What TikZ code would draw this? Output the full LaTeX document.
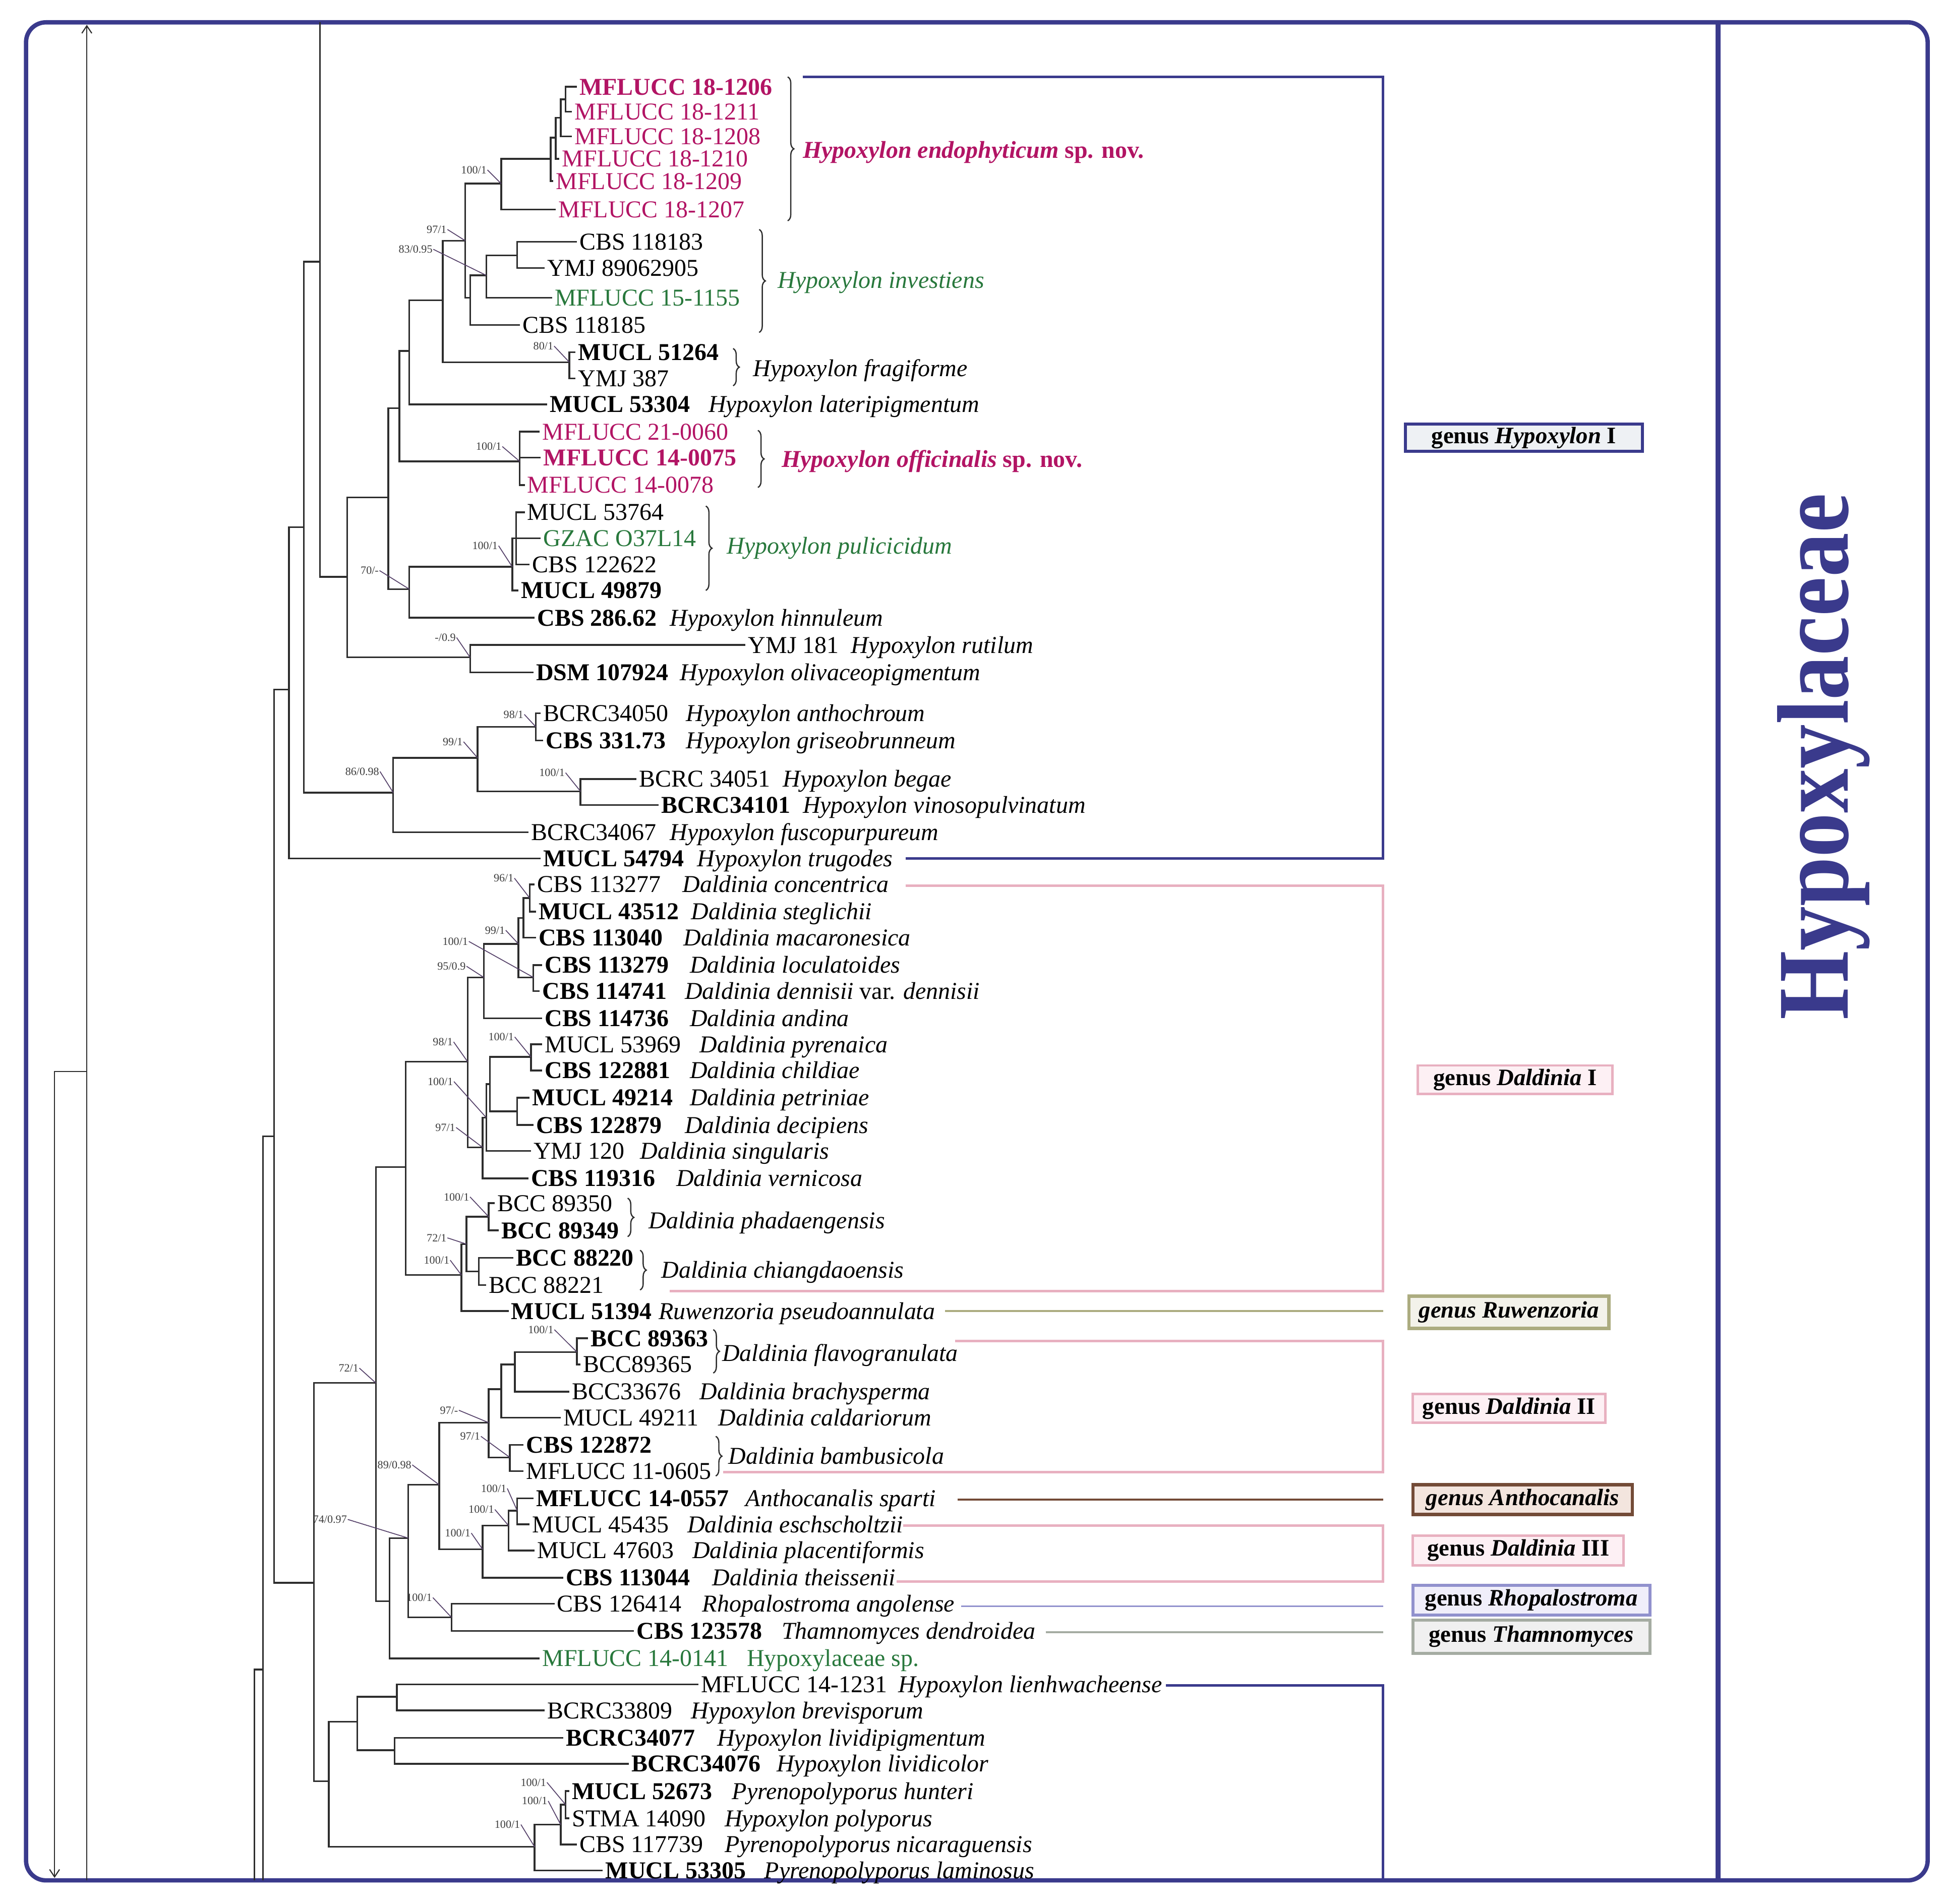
\documentclass[tikz,border=0pt]{standalone}
\usepackage{fontspec}
\setmainfont{Liberation Serif}
\usetikzlibrary{decorations.pathreplacing,arrows.meta}
\definecolor{navy}{RGB}{58,58,140}
\definecolor{magt}{RGB}{178,20,100}
\definecolor{grnt}{RGB}{40,120,60}
\definecolor{pinkl}{RGB}{232,176,192}
\definecolor{pinkf}{RGB}{253,240,244}
\definecolor{olivel}{RGB}{172,172,128}
\definecolor{olivef}{RGB}{243,242,234}
\definecolor{brownl}{RGB}{115,75,55}
\definecolor{brownf}{RGB}{243,229,222}
\definecolor{lavl}{RGB}{145,145,205}
\definecolor{lavf}{RGB}{240,238,250}
\definecolor{grayl}{RGB}{165,172,162}
\definecolor{grayf}{RGB}{240,240,240}
\definecolor{hyf}{RGB}{238,241,244}
\definecolor{brc}{RGB}{45,45,45}
\definecolor{ptrc}{RGB}{85,65,105}
\definecolor{supc}{RGB}{60,60,60}
\tikzset{
 br/.style={draw=brc, line width=1.4pt},
 tip/.style={anchor=west, inner xsep=2pt, inner ysep=0pt, text height=17pt, text depth=4pt, font=\fontsize{19.5}{22}\selectfont},
 sup/.style={font=\fontsize{9}{10}\selectfont, text=supc, inner sep=0.5pt},
 ptr/.style={draw=ptrc, line width=0.7pt},
 mag/.style={text=magt},
 grn/.style={text=grnt},
 gbox/.style={font=\fontsize{19}{22}\selectfont\bfseries, inner sep=0pt, line width=2.5pt},
 outerframe/.style={draw=navy, line width=3.5pt},
 bracenote/.style={draw=brc, line width=1pt, decorate, decoration={brace, amplitude=5pt}},
 navyline/.style={draw=navy, line width=2pt},
 pinkline/.style={draw=pinkl, line width=2pt},
}
\begin{document}
\begin{tikzpicture}[x=1pt,y=-1pt]
\useasboundingbox (0,0) rectangle (1568,1535);
% frame
\draw[outerframe, rounded corners=16pt] (21,18) rectangle (1554,1516);
\coordinate (dvt) at (1385,18);
\coordinate (dvb) at (1385,1516);
\draw[draw=navy, line width=4pt] (dvt) -- (dvb);
\node[rotate=90, text=navy, font=\fontsize{82}{82}\selectfont\bfseries, inner sep=0pt] (fam) at (1470,610) {\scalebox{0.87}[1]{Hypoxylaceae}};

% left arrows
\coordinate (R0) at (44,864);
\coordinate (R1) at (70,864);
\coordinate (Rtop) at (70,20);
\coordinate (Rbot) at (70,1516);
\coordinate (R0b) at (44,1514);
\draw[draw=brc, line width=0.9pt, -{Straight Barb[length=6pt,width=8pt]}] (Rbot) -- (Rtop);
\draw[draw=brc, line width=0.9pt, -{Straight Barb[length=6pt,width=8pt]}] (R1) -- (R0) -- (R0b);

% ---------- tips ----------
\node[tip,mag] (t1) at (465,70) {\textbf{MFLUCC 18-1206}};
\node[tip,mag] (t2) at (461,90) {MFLUCC 18-1211};
\node[tip,mag] (t3) at (461,110) {MFLUCC 18-1208};
\node[tip,mag] (t4) at (451,128) {MFLUCC 18-1210};
\node[tip,mag] (t5) at (446,146) {MFLUCC 18-1209};
\node[tip,mag] (t6) at (448,169) {MFLUCC 18-1207};
\node[tip] (t7) at (465,195) {CBS 118183};
\node[tip] (t8) at (439,216) {YMJ 89062905};
\node[tip,grn] (t9) at (445,240) {MFLUCC 15-1155};
\node[tip] (t10) at (419,262) {CBS 118185};
\node[tip] (t11) at (464,284) {\textbf{MUCL 51264}};
\node[tip] (t12) at (464,305) {YMJ 387};
\node[tip] (t13) at (441,326) {\textbf{MUCL 53304}};
\node[tip] (s13) at (569,326) {\textit{Hypoxylon lateripigmentum}};
\node[tip,mag] (t14) at (435,348) {MFLUCC 21-0060};
\node[tip,mag] (t15) at (436,369) {\textbf{MFLUCC 14-0075}};
\node[tip,mag] (t16) at (423,391) {MFLUCC 14-0078};
\node[tip] (t17) at (423,413) {MUCL 53764};
\node[tip,grn] (t18) at (436,434) {GZAC O37L14};
\node[tip] (t19) at (427,455) {CBS 122622};
\node[tip] (t20) at (418,476) {\textbf{MUCL 49879}};
\node[tip] (t21) at (431,498) {\textbf{CBS 286.62}};
\node[tip] (s21) at (538,498) {\textit{Hypoxylon hinnuleum}};
\node[tip] (t22) at (601,520) {YMJ 181};
\node[tip] (s22) at (684,520) {\textit{Hypoxylon rutilum}};
\node[tip] (t23) at (430,542) {\textbf{DSM 107924}};
\node[tip] (s23) at (546,542) {\textit{Hypoxylon olivaceopigmentum}};
\node[tip] (t24) at (436,575) {BCRC34050};
\node[tip] (s24) at (551,575) {\textit{Hypoxylon anthochroum}};
\node[tip] (t25) at (438,597) {\textbf{CBS 331.73}};
\node[tip] (s25) at (551,597) {\textit{Hypoxylon griseobrunneum}};
\node[tip] (t26) at (513,628) {BCRC 34051};
\node[tip] (s26) at (629,628) {\textit{Hypoxylon begae}};
\node[tip] (t27) at (531,649) {\textbf{BCRC34101}};
\node[tip] (s27) at (645,649) {\textit{Hypoxylon vinosopulvinatum}};
\node[tip] (t28) at (426,671) {BCRC34067};
\node[tip] (s28) at (538,671) {\textit{Hypoxylon fuscopurpureum}};
\node[tip] (t29) at (436,692) {\textbf{MUCL 54794}};
\node[tip] (s29) at (560,692) {\textit{Hypoxylon trugodes}};
\node[tip] (t30) at (431,713) {CBS 113277};
\node[tip] (s30) at (548,713) {\textit{Daldinia concentrica}};
\node[tip] (t31) at (432,735) {\textbf{MUCL 43512}};
\node[tip] (s31) at (555,735) {\textit{Daldinia steglichii}};
\node[tip] (t32) at (432,756) {\textbf{CBS 113040}};
\node[tip] (s32) at (549,756) {\textit{Daldinia macaronesica}};
\node[tip] (t33) at (437,778) {\textbf{CBS 113279}};
\node[tip] (s33) at (554,778) {\textit{Daldinia loculatoides}};
\node[tip] (t34) at (435,799) {\textbf{CBS 114741}};
\node[tip] (s34) at (550,799) {\textit{Daldinia dennisii} var. \textit{dennisii}};
\node[tip] (t35) at (437,821) {\textbf{CBS 114736}};
\node[tip] (s35) at (554,821) {\textit{Daldinia andina}};
\node[tip] (t36) at (437,842) {MUCL 53969};
\node[tip] (s36) at (562,842) {\textit{Daldinia pyrenaica}};
\node[tip] (t37) at (437,863) {\textbf{CBS 122881}};
\node[tip] (s37) at (554,863) {\textit{Daldinia childiae}};
\node[tip] (t38) at (427,885) {\textbf{MUCL 49214}};
\node[tip] (s38) at (554,885) {\textit{Daldinia petriniae}};
\node[tip] (t39) at (430,907) {\textbf{CBS 122879}};
\node[tip] (s39) at (550,907) {\textit{Daldinia decipiens}};
\node[tip] (t40) at (428,928) {YMJ 120};
\node[tip] (s40) at (514,928) {\textit{Daldinia singularis}};
\node[tip] (t41) at (426,950) {\textbf{CBS 119316}};
\node[tip] (s41) at (543,950) {\textit{Daldinia vernicosa}};
\node[tip] (t42) at (399,970) {BCC 89350};
\node[tip] (t43) at (402,992) {\textbf{BCC 89349}};
\node[tip] (t44) at (414,1014) {\textbf{BCC 88220}};
\node[tip] (t45) at (392,1036) {BCC 88221};
\node[tip] (t46) at (410,1057) {\textbf{MUCL 51394}};
\node[tip] (s46) at (529,1057) {\textit{Ruwenzoria pseudoannulata}};
\node[tip] (t47) at (474,1079) {\textbf{BCC 89363}};
\node[tip] (t48) at (468,1100) {BCC89365};
\node[tip] (t49) at (459,1122) {BCC33676};
\node[tip] (s49) at (562,1122) {\textit{Daldinia brachysperma}};
\node[tip] (t50) at (452,1143) {MUCL 49211};
\node[tip] (s50) at (577,1143) {\textit{Daldinia caldariorum}};
\node[tip] (t51) at (422,1165) {\textbf{CBS 122872}};
\node[tip] (t52) at (422,1186) {MFLUCC 11-0605};
\node[tip] (t53) at (430,1208) {\textbf{MFLUCC 14-0557}};
\node[tip] (s53) at (599,1208) {\textit{Anthocanalis sparti}};
\node[tip] (t54) at (427,1229) {MUCL 45435};
\node[tip] (s54) at (552,1229) {\textit{Daldinia eschscholtzii}};
\node[tip] (t55) at (431,1250) {MUCL 47603};
\node[tip] (s55) at (556,1250) {\textit{Daldinia placentiformis}};
\node[tip] (t56) at (454,1272) {\textbf{CBS 113044}};
\node[tip] (s56) at (572,1272) {\textit{Daldinia theissenii}};
\node[tip] (t57) at (447,1293) {CBS 126414};
\node[tip] (s57) at (564,1293) {\textit{Rhopalostroma angolense}};
\node[tip] (t58) at (511,1315) {\textbf{CBS 123578}};
\node[tip] (s58) at (628,1315) {\textit{Thamnomyces dendroidea}};
\node[tip,grn] (t59) at (435,1337) {MFLUCC 14-0141};
\node[tip,grn] (s59) at (600,1337) {Hypoxylaceae sp.};
\node[tip] (t60) at (563,1358) {MFLUCC 14-1231};
\node[tip] (s60) at (722,1358) {\textit{Hypoxylon lienhwacheense}};
\node[tip] (t61) at (439,1379) {BCRC33809};
\node[tip] (s61) at (555,1379) {\textit{Hypoxylon brevisporum}};
\node[tip] (t62) at (454,1401) {\textbf{BCRC34077}};
\node[tip] (s62) at (576,1401) {\textit{Hypoxylon lividipigmentum}};
\node[tip] (t63) at (507,1422) {\textbf{BCRC34076}};
\node[tip] (s63) at (624,1422) {\textit{Hypoxylon lividicolor}};
\node[tip] (t64) at (459,1444) {\textbf{MUCL 52673}};
\node[tip] (s64) at (588,1444) {\textit{Pyrenopolyporus hunteri}};
\node[tip] (t65) at (459,1466) {STMA 14090};
\node[tip] (s65) at (582,1466) {\textit{Hypoxylon polyporus}};
\node[tip] (t66) at (465,1487) {CBS 117739};
\node[tip] (s66) at (582,1487) {\textit{Pyrenopolyporus nicaraguensis}};
\node[tip] (t67) at (486,1508) {\textbf{MUCL 53305}};
\node[tip] (s67) at (614,1508) {\textit{Pyrenopolyporus laminosus}};

% ---------- internal nodes ----------
\coordinate (Ne4) at (456,80);
\coordinate (Ne3) at (452,95);
\coordinate (Ne2) at (448,111);
\coordinate (Ne1) at (444,128);
\coordinate (Ne0) at (404,148);
\coordinate (Ni2) at (417,206);
\coordinate (Ni1) at (392,222);
\coordinate (Ni0) at (379,240);
\coordinate (Nei) at (375,194);
\coordinate (Nf) at (459,292);
\coordinate (Na) at (357,242);
\coordinate (Nb) at (330,283);
\coordinate (No) at (419,372);
\coordinate (Nc) at (322,329);
\coordinate (Np1) at (416,434);
\coordinate (Np0) at (413,457);
\coordinate (Nh) at (330,475);
\coordinate (Nd) at (313,401);
\coordinate (Nr) at (379,530);
\coordinate (Ng) at (280,465);
\coordinate (Nx) at (258,211);
\coordinate (Ntop) at (258,18);
\coordinate (Nan) at (432,586);
\coordinate (Nbe) at (468,638);
\coordinate (Nq) at (385,611);
\coordinate (Ns) at (317,639);
\coordinate (Ny) at (245,425);
\coordinate (Nz) at (233,556);
\coordinate (Nw) at (221,916);
\coordinate (Nk) at (253,1276);
\coordinate (Nv) at (212,1346);
\coordinate (Nvb) at (212,1516);
\coordinate (Nu5) at (205,1346);
\coordinate (Nu5b) at (205,1516);
\coordinate (NL) at (303,1115);
\coordinate (NF) at (327,941);
\coordinate (ND) at (377,856);
\coordinate (NE) at (390,788);
\coordinate (NG) at (418,761);
\coordinate (NH) at (422,740);
\coordinate (NJ) at (427,724);
\coordinate (NI) at (430,788);
\coordinate (NC) at (389,925);
\coordinate (NB) at (392,901);
\coordinate (NA) at (395,874);
\coordinate (NK1) at (428,852);
\coordinate (NK2) at (417,896);
\coordinate (NPCR) at (372,1028);
\coordinate (NPC) at (376,1003);
\coordinate (NPH) at (394,981);
\coordinate (NCH) at (386,1025);
\coordinate (Nn) at (314,1291);
\coordinate (No2) at (329,1240);
\coordinate (Nrt) at (364,1304);
\coordinate (Np2) at (354,1197);
\coordinate (Nq2) at (394,1147);
\coordinate (Nr2) at (404,1120);
\coordinate (Ns2) at (415,1100);
\coordinate (NFL) at (465,1090);
\coordinate (NBB) at (411,1175);
\coordinate (Nes) at (389,1249);
\coordinate (Nt2) at (410,1230);
\coordinate (NAN) at (417,1218);
\coordinate (Nm) at (265,1436);
\coordinate (Nu) at (288,1388);
\coordinate (NV1) at (320,1368);
\coordinate (NV2) at (318,1411);
\coordinate (NQ0) at (431,1489);
\coordinate (NQ1) at (452,1471);
\coordinate (NQ2) at (456,1455);

% ---------- branches ----------
\draw[br] (Ne4) |- (t1.west) (Ne4) |- (t2.west);
\draw[br] (Ne3) |- (Ne4) (Ne3) |- (t3.west);
\draw[br] (Ne2) |- (Ne3) (Ne2) |- (t4.west);
\draw[br] (Ne1) |- (Ne2) (Ne1) |- (t5.west);
\draw[br] (Ne0) |- (Ne1) (Ne0) |- (t6.west);
\draw[br] (Ni2) |- (t7.west) (Ni2) |- (t8.west);
\draw[br] (Ni1) |- (Ni2) (Ni1) |- (t9.west);
\draw[br] (Ni0) |- (Ni1) (Ni0) |- (t10.west);
\draw[br] (Nei) |- (Ne0) (Nei) |- (Ni0);
\draw[br] (Nf) |- (t11.west) (Nf) |- (t12.west);
\draw[br] (Na) |- (Nei) (Na) |- (Nf);
\draw[br] (Nb) |- (Na) (Nb) |- (t13.west);
\draw[br] (No) |- (t14.west) (No) |- (t15.west) (No) |- (t16.west);
\draw[br] (Nc) |- (Nb) (Nc) |- (No);
\draw[br] (Np1) |- (t17.west) (Np1) |- (t18.west) (Np1) |- (t19.west);
\draw[br] (Np0) |- (Np1) (Np0) |- (t20.west);
\draw[br] (Nh) |- (Np0) (Nh) |- (t21.west);
\draw[br] (Nd) |- (Nc) (Nd) |- (Nh);
\draw[br] (Nr) |- (t22.west) (Nr) |- (t23.west);
\draw[br] (Ng) |- (Nd) (Ng) |- (Nr);
\draw[br] (Nx) |- (Ng) (Nx) -- (Ntop);
\draw[br] (Nan) |- (t24.west) (Nan) |- (t25.west);
\draw[br] (Nbe) |- (t26.west) (Nbe) |- (t27.west);
\draw[br] (Nq) |- (Nan) (Nq) |- (Nbe);
\draw[br] (Ns) |- (Nq) (Ns) |- (t28.west);
\draw[br] (Ny) |- (Nx) (Ny) |- (Ns);
\draw[br] (Nz) |- (Ny) (Nz) |- (t29.west);
\draw[br] (Nw) |- (Nz) (Nw) |- (Nk);
\draw[br] (Nv) |- (Nw) (Nv) -- (Nvb);
\draw[br] (Nv) -- (Nu5) -- (Nu5b);
\draw[br] (Nk) |- (NL) (Nk) |- (Nm);
\draw[br] (NL) |- (NF) (NL) |- (Nn);
\draw[br] (NF) |- (ND) (NF) |- (NPCR);
\draw[br] (ND) |- (NE) (ND) |- (NC);
\draw[br] (NE) |- (NG) (NE) |- (t35.west);
\draw[br] (NG) |- (NH) (NG) |- (NI);
\draw[br] (NH) |- (NJ) (NH) |- (t32.west);
\draw[br] (NJ) |- (t30.west) (NJ) |- (t31.west);
\draw[br] (NI) |- (t33.west) (NI) |- (t34.west);
\draw[br] (NC) |- (NB) (NC) |- (t41.west);
\draw[br] (NB) |- (NA) (NB) |- (t40.west);
\draw[br] (NA) |- (NK1) (NA) |- (NK2);
\draw[br] (NK1) |- (t36.west) (NK1) |- (t37.west);
\draw[br] (NK2) |- (t38.west) (NK2) |- (t39.west);
\draw[br] (NPCR) |- (NPC) (NPCR) |- (t46.west);
\draw[br] (NPC) |- (NPH) (NPC) |- (NCH);
\draw[br] (NPH) |- (t42.west) (NPH) |- (t43.west);
\draw[br] (NCH) |- (t44.west) (NCH) |- (t45.west);
\draw[br] (Nn) |- (No2) (Nn) |- (t59.west);
\draw[br] (No2) |- (Np2) (No2) |- (Nrt);
\draw[br] (Nrt) |- (t57.west) (Nrt) |- (t58.west);
\draw[br] (Np2) |- (Nq2) (Np2) |- (Nes);
\draw[br] (Nq2) |- (Nr2) (Nq2) |- (NBB);
\draw[br] (Nr2) |- (Ns2) (Nr2) |- (t50.west);
\draw[br] (Ns2) |- (NFL) (Ns2) |- (t49.west);
\draw[br] (NFL) |- (t47.west) (NFL) |- (t48.west);
\draw[br] (NBB) |- (t51.west) (NBB) |- (t52.west);
\draw[br] (Nes) |- (Nt2) (Nes) |- (t56.west);
\draw[br] (Nt2) |- (NAN) (Nt2) |- (t55.west);
\draw[br] (NAN) |- (t53.west) (NAN) |- (t54.west);
\draw[br] (Nm) |- (Nu) (Nm) |- (NQ0);
\draw[br] (Nu) |- (NV1) (Nu) |- (NV2);
\draw[br] (NV1) |- (t60.west) (NV1) |- (t61.west);
\draw[br] (NV2) |- (t62.west) (NV2) |- (t63.west);
\draw[br] (NQ0) |- (NQ1) (NQ0) |- (t67.west);
\draw[br] (NQ1) |- (NQ2) (NQ1) |- (t66.west);
\draw[br] (NQ2) |- (t64.west) (NQ2) |- (t65.west);

% ---------- support values ----------
\node[sup] (L1) at (382,137) {100/1};   \draw[ptr] (L1.east) -- (Ne0);
\node[sup] (L2) at (352,185) {97/1};    \draw[ptr] (L2.east) -- (Nei);
\node[sup] (L3) at (335,201) {83/0.95}; \draw[ptr] (L3.east) -- (Ni1);
\node[sup] (L4) at (438,279) {80/1};    \draw[ptr] (L4.east) -- (Nf);
\node[sup] (L5) at (394,360) {100/1};   \draw[ptr] (L5.east) -- (No);
\node[sup] (L6) at (391,440) {100/1};   \draw[ptr] (L6.east) -- (Np0);
\node[sup] (L7) at (298,460) {70/-};    \draw[ptr] (L7.east) -- (Nh);
\node[sup] (L8) at (359,514) {-/0.9};   \draw[ptr] (L8.east) -- (Nr);
\node[sup] (L9) at (414,576) {98/1};    \draw[ptr] (L9.east) -- (Nan);
\node[sup] (L10) at (365,598) {99/1};   \draw[ptr] (L10.east) -- (Nq);
\node[sup] (L11) at (445,623) {100/1};  \draw[ptr] (L11.east) -- (Nbe);
\node[sup] (L12) at (292,622) {86/0.98};\draw[ptr] (L12.east) -- (Ns);
\node[sup] (L13) at (406,708) {96/1};   \draw[ptr] (L13.east) -- (NJ);
\node[sup] (L14) at (399,750) {99/1};   \draw[ptr] (L14.east) -- (NG);
\node[sup] (L15) at (367,759) {100/1};  \draw[ptr] (L15.east) -- (NI);
\node[sup] (L16) at (364,779) {95/0.9}; \draw[ptr] (L16.east) -- (NE);
\node[sup] (L17) at (357,840) {98/1};   \draw[ptr] (L17.east) -- (ND);
\node[sup] (L18) at (404,836) {100/1};  \draw[ptr] (L18.east) -- (NK1);
\node[sup] (L19) at (355,872) {100/1};  \draw[ptr] (L19.east) -- (NB);
\node[sup] (L20) at (359,909) {97/1};   \draw[ptr] (L20.east) -- (NC);
\node[sup] (L21) at (368,965) {100/1};  \draw[ptr] (L21.east) -- (NPH);
\node[sup] (L22) at (352,998) {72/1};   \draw[ptr] (L22.east) -- (NPC);
\node[sup] (L23) at (352,1016) {100/1}; \draw[ptr] (L23.east) -- (NPCR);
\node[sup] (L24) at (281,1103) {72/1};  \draw[ptr] (L24.east) -- (NL);
\node[sup] (L25) at (436,1072) {100/1}; \draw[ptr] (L25.east) -- (NFL);
\node[sup] (L26) at (362,1137) {97/-};  \draw[ptr] (L26.east) -- (Nq2);
\node[sup] (L27) at (379,1158) {97/1};  \draw[ptr] (L27.east) -- (NBB);
\node[sup] (L28) at (318,1181) {89/0.98};\draw[ptr] (L28.east) -- (Np2);
\node[sup] (L29) at (266,1225) {74/0.97};\draw[ptr] (L29.east) -- (No2);
\node[sup] (L30) at (398,1200) {100/1}; \draw[ptr] (L30.east) -- (NAN);
\node[sup] (L31) at (388,1217) {100/1}; \draw[ptr] (L31.east) -- (Nt2);
\node[sup] (L32) at (369,1236) {100/1}; \draw[ptr] (L32.east) -- (Nes);
\node[sup] (L33) at (338,1288) {100/1}; \draw[ptr] (L33.east) -- (Nrt);
\node[sup] (L34) at (430,1437) {100/1}; \draw[ptr] (L34.east) -- (NQ2);
\node[sup] (L35) at (431,1452) {100/1}; \draw[ptr] (L35.east) -- (NQ1);
\node[sup] (L36) at (409,1471) {100/1}; \draw[ptr] (L36.east) -- (NQ0);

% ---------- braces and species ----------
\draw[bracenote] (635,62) -- (635,178);
\node[tip,mag] (b1) at (645,121) {\textbf{\textit{Hypoxylon endophyticum}} \textbf{sp. nov.}};
\draw[bracenote] (612,185) -- (612,268);
\node[tip,grn] (b2) at (625,226) {\textit{Hypoxylon investiens}};
\draw[bracenote] (591,281) -- (591,311);
\node[tip] (b3) at (605,297) {\textit{Hypoxylon fragiforme}};
\draw[bracenote] (611,347) -- (611,393);
\node[tip,mag] (b4) at (628,370) {\textbf{\textit{Hypoxylon officinalis}} \textbf{sp. nov.}};
\draw[bracenote] (569,408) -- (569,476);
\node[tip,grn] (b5) at (584,440) {\textit{Hypoxylon pulicicidum}};
\draw[bracenote] (506,966) -- (506,997);
\node[tip] (b6) at (521,984) {\textit{Daldinia phadaengensis}};
\draw[bracenote] (516,1008) -- (516,1040);
\node[tip] (b7) at (531,1024) {\textit{Daldinia chiangdaoensis}};
\draw[bracenote] (575,1072) -- (575,1107);
\node[tip] (b8) at (580,1091) {\textit{Daldinia flavogranulata}};
\draw[bracenote] (577,1158) -- (577,1190);
\node[tip] (b9) at (585,1174) {\textit{Daldinia bambusicola}};

% ---------- genus brackets ----------
\coordinate (hA) at (647,62);  \coordinate (hB) at (1115,62);
\coordinate (hC) at (1115,692); \coordinate (hD) at (730,692);
\draw[navyline] (hA) -- (hB) -- (hC) -- (hD);
\coordinate (dA) at (730,714);  \coordinate (dB) at (1115,714);
\coordinate (dC) at (1115,1041); \coordinate (dD) at (540,1041);
\draw[pinkline] (dA) -- (dB) -- (dC) -- (dD);
\coordinate (rA) at (762,1057); \coordinate (rB) at (1115,1057);
\draw[draw=olivel, line width=1.6pt] (rA) -- (rB);
\coordinate (eA) at (770,1081);  \coordinate (eB) at (1115,1081);
\coordinate (eC) at (1115,1187); \coordinate (eD) at (583,1187);
\draw[pinkline] (eA) -- (eB) -- (eC) -- (eD);
\coordinate (aA) at (772,1209); \coordinate (aB) at (1115,1209);
\draw[draw=brownl, line width=2pt] (aA) -- (aB);
\coordinate (fA) at (728,1230);  \coordinate (fB) at (1115,1230);
\coordinate (fC) at (1115,1275); \coordinate (fD) at (723,1275);
\draw[pinkline] (fA) -- (fB) -- (fC) -- (fD);
\coordinate (pA) at (775,1295); \coordinate (pB) at (1115,1295);
\draw[draw=lavl, line width=1.6pt] (pA) -- (pB);
\coordinate (qA) at (843,1316); \coordinate (qB) at (1115,1316);
\draw[draw=grayl, line width=1.6pt] (qA) -- (qB);
\coordinate (lA) at (940,1359); \coordinate (lB) at (1115,1359);
\coordinate (lC) at (1115,1516);
\draw[navyline] (lA) -- (lB) -- (lC);

% ---------- genus boxes ----------
\node[gbox, draw=navy, fill=hyf, minimum width=191pt, minimum height=22pt] (gHI) at (1228.5,353) {genus \textit{Hypoxylon} I};
\node[gbox, draw=pinkl, line width=2pt, fill=pinkf, minimum width=157pt, minimum height=23pt] (gDI) at (1221.5,870.5) {genus \textit{Daldinia} I};
\node[gbox, draw=olivel, fill=olivef, minimum width=161pt, minimum height=26pt] (gRu) at (1216.5,1058) {\textit{genus Ruwenzoria}};
\node[gbox, draw=pinkl, line width=2pt, fill=pinkf, minimum width=155pt, minimum height=23pt] (gDII) at (1216.5,1135.5) {genus \textit{Daldinia} II};
\node[gbox, draw=brownl, fill=brownf, minimum width=177pt, minimum height=24pt] (gAn) at (1227.5,1209) {\textit{genus Anthocanalis}};
\node[gbox, draw=pinkl, line width=2pt, fill=pinkf, minimum width=170pt, minimum height=24pt] (gDIII) at (1224,1250) {genus \textit{Daldinia} III};
\node[gbox, draw=lavl, fill=lavf, minimum width=191pt, minimum height=24pt] (gRh) at (1234.5,1290) {genus \textit{Rhopalostroma}};
\node[gbox, draw=grayl, fill=grayf, minimum width=191pt, minimum height=27pt] (gTh) at (1234.5,1319.5) {genus \textit{Thamnomyces}};
\end{tikzpicture}
\end{document}
